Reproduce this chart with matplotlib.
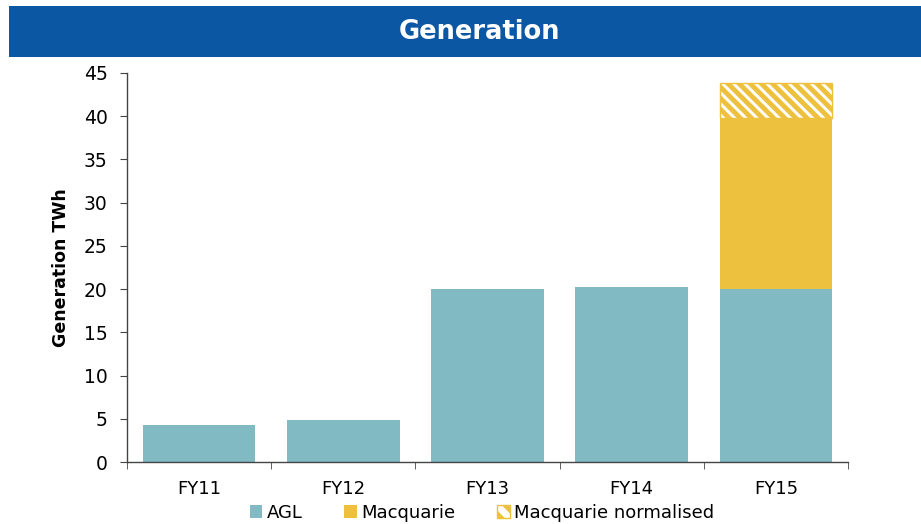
import matplotlib
matplotlib.use("Agg")
import matplotlib.pyplot as plt
from matplotlib.patches import Rectangle, Patch
import numpy as np

plt.rcParams['font.family'] = ['DejaVu Sans']
plt.rcParams['hatch.linewidth'] = 3.5

categories = ["FY11", "FY12", "FY13", "FY14", "FY15"]
agl = [4.3, 4.9, 20.0, 20.2, 20.0]
macquarie = [0, 0, 0, 0, 19.8]
macquarie_norm = [0, 0, 0, 0, 4.0]
yticks = [0, 5, 10, 15, 20, 25, 30, 35, 40, 45]

c_agl = "#81BAC3"
c_mac = "#EDC13E"
c_banner = "#0B57A4"
c_axis = "#444444"

fig = plt.figure(figsize=(9.21, 5.24), dpi=100)
fig.patches.append(Rectangle((9/921, 1-57/524), 1-9/921, 51/524, transform=fig.transFigure,
                             facecolor=c_banner, edgecolor='none', zorder=0))
fig.text(479/921, 1-32/524, "Generation", color="white", fontsize=18.5, fontweight="bold",
         ha="center", va="center")

ax = fig.add_axes([127/921, 1-462/524, (848-127)/921, (462-73)/524])
x = np.arange(len(categories))
w = 0.78
ax.bar(x, agl, w, color=c_agl, label="AGL", zorder=2)
bottom2 = np.array(agl)
mm = np.array(macquarie) > 0
ax.bar(x[mm], np.array(macquarie)[mm], w, bottom=bottom2[mm], color=c_mac,
       label="Macquarie", zorder=2)
bottom3 = bottom2 + np.array(macquarie)
m = np.array(macquarie_norm) > 0
ax.bar(x[m], np.array(macquarie_norm)[m], w, bottom=bottom3[m], facecolor="white",
       edgecolor=c_mac, hatch="\\\\\\", linewidth=1.0, label="Macquarie normalised", zorder=2)

ax.set_xlim(-0.5, len(categories) - 0.5)
ax.set_ylim(0, 45)
ax.set_yticks(yticks)
ax.set_yticklabels([str(t) for t in yticks], fontsize=13.5)
ax.set_xticks(x)
ax.set_xticklabels(categories, fontsize=13)
ax.tick_params(axis='x', length=0, pad=13)
ax.set_xticks(np.arange(-0.5, len(categories)), minor=True)
ax.tick_params(axis='x', which='minor', length=5, direction='out', color=c_axis)
ax.tick_params(axis='y', length=5, direction='out', color=c_axis, pad=9)
for s in ['top', 'right']:
    ax.spines[s].set_visible(False)
for s in ['left', 'bottom']:
    ax.spines[s].set_color(c_axis)
    ax.spines[s].set_linewidth(1.0)
ax.set_ylabel("Generation TWh", fontsize=12.5, fontweight="bold", labelpad=10)

handles = [Patch(facecolor=c_agl, label="AGL"),
           Patch(facecolor=c_mac, label="Macquarie"),
           Patch(facecolor="white", edgecolor=c_mac, hatch="\\\\", label="Macquarie normalised")]
fig.legend(handles=handles, loc="center", bbox_to_anchor=(482/921, 1-513/524), ncol=3,
           frameon=False, fontsize=13, handlelength=0.7, handleheight=0.7,
           handletextpad=0.25, columnspacing=2.3, borderpad=0.1)

fig.savefig("out.png", dpi=100)
